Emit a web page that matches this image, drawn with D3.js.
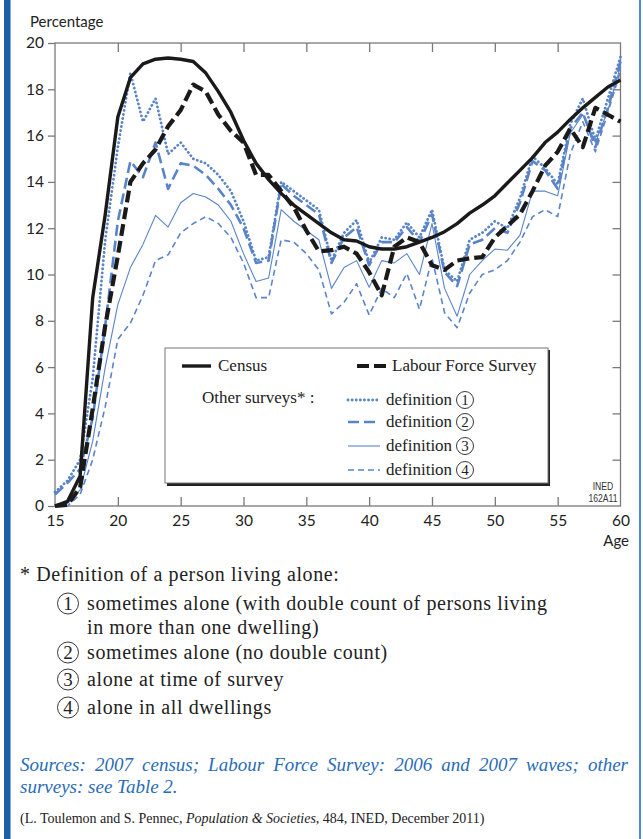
<!DOCTYPE html>
<html><head><meta charset="utf-8">
<script src="https://cdn.jsdelivr.net/npm/d3@7"></script>
<style>body{margin:0;background:#fff}svg{display:block}</style>
</head><body>
<svg id="c" width="643" height="839"></svg>
<script>
const ages = [15,16,17,18,19,20,21,22,23,24,25,26,27,28,29,30,31,32,33,34,35,36,37,38,39,40,41,42,43,44,45,46,47,48,49,50,51,52,53,54,55,56,57,58,59,60];
const census = [0.0,0.2,1.3,9.0,12.6,16.8,18.5,19.1,19.3,19.35,19.3,19.2,18.7,17.9,17.0,15.8,14.8,14.1,13.5,13.0,12.6,12.2,11.8,11.5,11.45,11.2,11.1,11.1,11.2,11.4,11.6,11.85,12.2,12.65,13.0,13.4,13.95,14.5,15.05,15.7,16.15,16.7,17.2,17.65,18.1,18.4];
const lfs = [0.0,0.05,0.8,4.2,7.8,10.8,14.0,14.8,15.4,16.4,17.1,18.2,17.9,16.9,16.2,15.7,14.3,14.3,13.6,12.9,11.9,11.0,11.05,11.2,10.9,10.1,9.1,11.2,11.6,11.4,10.4,10.2,10.6,10.7,10.75,11.6,12.1,12.6,13.6,14.7,15.3,16.3,15.5,17.2,16.9,16.6];
const def1 = [0.6,1.1,2.0,5.5,11.5,15.5,18.7,16.6,17.6,15.2,15.7,15.0,14.8,14.3,13.6,12.3,10.6,10.75,14.0,13.6,13.2,12.8,10.6,11.8,12.35,10.5,11.6,11.5,12.25,11.6,12.8,10.2,9.7,11.5,11.8,12.3,12.0,13.3,15.1,14.6,13.9,16.5,17.6,15.8,17.6,19.4];
const def2 = [0.5,1.0,1.6,3.8,7.8,12.3,14.9,14.2,15.7,13.7,14.8,14.7,14.3,13.7,13.0,12.0,10.5,10.6,13.9,13.4,13.0,12.6,10.5,11.6,12.05,10.4,11.4,11.4,12.05,11.4,12.6,10.1,9.5,11.3,11.5,12.0,11.8,13.1,14.9,14.5,13.7,16.3,17.0,15.5,17.2,19.2];
const def3 = [0.0,0.1,0.7,2.8,6.0,8.7,10.3,11.3,12.55,12.05,13.1,13.5,13.35,13.0,12.3,10.9,9.7,9.85,12.8,12.3,11.9,11.5,9.4,10.3,10.6,9.45,10.6,10.5,10.9,10.0,12.2,9.4,8.2,10.0,10.6,11.1,11.05,11.7,13.6,13.6,13.4,16.1,16.9,15.7,17.1,19.0];
const def4 = [0.0,0.0,0.5,2.0,4.3,7.2,7.9,9.1,10.6,10.85,11.8,12.2,12.5,12.2,11.6,10.5,9.0,9.0,11.5,11.4,10.9,10.2,8.3,8.8,9.6,8.25,9.4,9.0,10.05,8.5,10.7,8.35,7.7,9.2,10.0,10.2,10.6,11.4,12.5,12.8,12.5,15.2,16.6,15.3,17.0,18.8];
const yTicks = [0,2,4,6,8,10,12,14,16,18,20];
const xTicks = [15,20,25,30,35,40,45,50,55,60];

const svg = d3.select("#c");
const BLUE = "#5a84c8", BLACK = "#1a1a1a", AX = "#7a7a7a";
const sans = "Lato, 'Open Sans', sans-serif";
const serif = "'Liberation Serif', 'Times New Roman', serif";

// side bars
svg.append("rect").attr("x",4).attr("y",0).attr("width",6.5).attr("height",839).attr("fill","#1b5ea9");
svg.append("rect").attr("x",639).attr("y",0).attr("width",2).attr("height",839).attr("fill","#4a8ad0");

const x = d3.scaleLinear().domain([15,60]).range([55,620.5]);
const y = d3.scaleLinear().domain([0,20]).range([506,43]);

// axes
const gL = svg.append("g").attr("transform","translate(55,0)").call(d3.axisLeft(y).tickValues(yTicks).tickSize(7).tickPadding(3).tickFormat(d3.format("d")));
const gR = svg.append("g").attr("transform","translate(620.5,0)").call(d3.axisRight(y).tickValues(yTicks.slice(1,-1)).tickSize(-8).tickFormat(""));
const gT = svg.append("g").attr("transform","translate(0,43)").call(d3.axisTop(x).tickValues(xTicks.slice(1,-1)).tickSize(-9).tickFormat(""));
const gB = svg.append("g").attr("transform","translate(0,506)").call(d3.axisBottom(x).tickValues(xTicks).tickSize(-9).tickPadding(6).tickFormat(d3.format("d")));
[gL,gR,gT,gB].forEach(g=>{
  g.select(".domain").remove();
  g.selectAll("line").attr("stroke",AX).attr("stroke-width",1.3);
  g.selectAll("text").attr("fill","#222").attr("font-family",sans).attr("font-size",15.5);
});
gB.selectAll(".tick").filter(d=>d===15||d===60).select("line").remove();
gB.selectAll("text").attr("dy","0.9em");
gL.selectAll("text").attr("dx","-1");
svg.append("rect").attr("x",55).attr("y",43).attr("width",565.5).attr("height",463)
  .attr("fill","none").attr("stroke",AX).attr("stroke-width",1.3);

svg.append("text").attr("x",30).attr("y",27).attr("font-family",sans).attr("font-size",15).attr("fill","#222").text("Percentage");
svg.append("text").attr("x",629).attr("y",546).attr("text-anchor","end").attr("font-family",sans).attr("font-size",15).attr("fill","#222").text("Age");
svg.append("text").attr("x",603).attr("y",490).attr("text-anchor","middle").attr("font-family","'Liberation Sans', Arial, sans-serif").attr("font-size",10.5).attr("fill","#333").attr("transform","translate(603,0) scale(0.82,1) translate(-603,0)").text("INED");
svg.append("text").attr("x",603).attr("y",502).attr("text-anchor","middle").attr("font-family","'Liberation Sans', Arial, sans-serif").attr("font-size",10.5).attr("fill","#333").attr("transform","translate(603,0) scale(0.82,1) translate(-603,0)").text("162A11");

// series
const series = [
  {data:def4, color:BLUE, w:1.6, dash:"6,4", cap:"butt"},
  {data:def3, color:BLUE, w:1.1, dash:null, cap:"butt"},
  {data:def2, color:BLUE, w:2.6, dash:"11,5", cap:"butt"},
  {data:def1, color:BLUE, w:2.8, dash:"0.1,4", cap:"round"},
  {data:census, color:BLACK, w:3.4, dash:null, cap:"butt"},
  {data:lfs, color:BLACK, w:4.2, dash:"12,5", cap:"butt"}
];
const line = d3.line().x((d,i)=>x(ages[i])).y(d=>y(d));
series.forEach(s=>{
  svg.append("path").datum(s.data).attr("d",line).attr("fill","none")
    .attr("stroke",s.color).attr("stroke-width",s.w).attr("stroke-linecap",s.cap)
    .attr("stroke-linejoin","round").attr("stroke-dasharray",s.dash);
});

// legend
svg.append("rect").attr("x",167).attr("y",350).attr("width",383).attr("height",136).attr("fill","#222");
svg.append("rect").attr("x",165).attr("y",348).attr("width",383).attr("height",135).attr("fill","#fff").attr("stroke","#777").attr("stroke-width",1);
function circled(g, cx, cy, r, digit, size){
  g.append("circle").attr("cx",cx).attr("cy",cy).attr("r",r).attr("fill","none").attr("stroke","#222").attr("stroke-width",0.9);
  g.append("text").attr("x",cx).attr("y",cy+size*0.34).attr("text-anchor","middle").attr("font-family",serif).attr("font-size",size).attr("fill","#222").attr("letter-spacing",0).text(digit);
}
const lg = svg.append("g");
lg.append("line").attr("x1",182).attr("x2",211).attr("y1",366).attr("y2",366).attr("stroke",BLACK).attr("stroke-width",3.4);
lg.append("text").attr("x",218).attr("y",371).attr("font-family",serif).attr("font-size",17).attr("fill","#222").text("Census");
lg.append("line").attr("x1",357).attr("x2",386).attr("y1",366).attr("y2",366).attr("stroke",BLACK).attr("stroke-width",4.2).attr("stroke-dasharray","12,5");
lg.append("text").attr("x",392).attr("y",371).attr("font-family",serif).attr("font-size",17).attr("fill","#222").text("Labour Force Survey");
lg.append("text").attr("x",202).attr("y",403).attr("font-family",serif).attr("font-size",17).attr("fill","#222").text("Other surveys* :");
const legDefs = [
  {s:series[3], y:400, d:"1"},
  {s:series[2], y:422, d:"2"},
  {s:series[1], y:446, d:"3"},
  {s:series[0], y:470, d:"4"}
];
legDefs.forEach(o=>{
  lg.append("line").attr("x1",348).attr("x2",380).attr("y1",o.y).attr("y2",o.y)
    .attr("stroke",o.s.color).attr("stroke-width",o.s.w).attr("stroke-dasharray",o.s.dash).attr("stroke-linecap",o.s.cap);
  lg.append("text").attr("x",386).attr("y",o.y+5).attr("font-family",serif).attr("font-size",17).attr("fill","#222").text("definition");
  circled(lg, 465, o.y, 8.5, o.d, 15);
});

// footnote
const fg = svg.append("g").attr("font-family",serif).attr("fill","#222");
fg.append("text").attr("x",20).attr("y",581).attr("font-size",20).attr("letter-spacing",0.6).text("* Definition of a person living alone:");
const items = [
  {d:"1", lines:["sometimes alone (with double count of persons living","in more than one dwelling)"], y:610},
  {d:"2", lines:["sometimes alone (no double count)"], y:659},
  {d:"3", lines:["alone at time of survey"], y:686},
  {d:"4", lines:["alone in all dwellings"], y:714}
];
items.forEach(it=>{
  circled(fg, 68, it.y-6.5, 10.5, it.d, 19);
  it.lines.forEach((t,i)=>fg.append("text").attr("x",87).attr("y",it.y+i*23.5).attr("font-size",20).attr("letter-spacing",0.6).text(t));
});

// sources (justified first line)
function justify(words, x0, x1, yy, size, color){
  const g = svg.append("g").attr("font-family",serif).attr("font-style","italic").attr("font-size",size).attr("fill",color);
  const nodes = words.map(w=>g.append("text").attr("y",yy).text(w));
  const ws = nodes.map(n=>n.node().getComputedTextLength());
  const gap = (x1-x0-d3.sum(ws))/(words.length-1);
  let cx = x0;
  nodes.forEach((n,i)=>{n.attr("x",cx); cx += ws[i]+gap;});
}
justify("Sources: 2007 census; Labour Force Survey: 2006 and 2007 waves; other".split(" "), 20, 628, 771, 19, "#2a6cb6");
svg.append("text").attr("x",20).attr("y",793).attr("font-family",serif).attr("font-style","italic").attr("font-size",19).attr("fill","#2a6cb6").text("surveys: see Table 2.");

const cit = svg.append("text").attr("x",20).attr("y",823).attr("font-family",serif).attr("font-size",14).attr("fill","#222");
cit.append("tspan").text("(L. Toulemon and S. Pennec, ");
cit.append("tspan").attr("font-style","italic").text("Population & Societies");
cit.append("tspan").text(", 484, INED, December 2011)");
</script>
</body></html>
